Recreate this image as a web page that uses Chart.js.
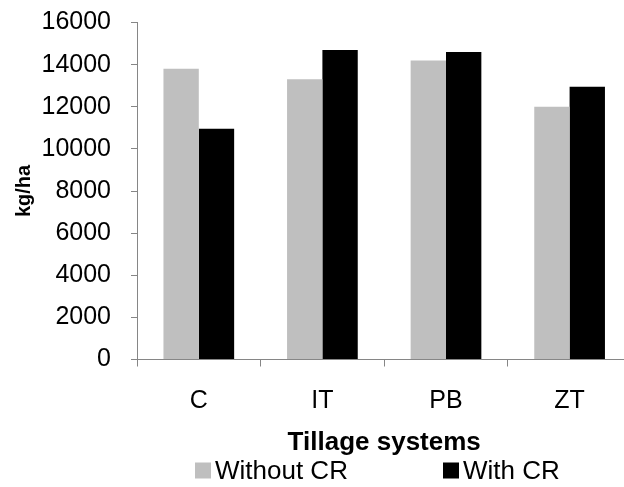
<!DOCTYPE html>
<html>
<head>
<meta charset="utf-8">
<script src="https://cdn.jsdelivr.net/npm/chart.js@4/dist/chart.umd.min.js"></script>
<style>
  html, body { margin: 0; padding: 0; overflow: hidden; background: #ffffff; }
  #wrap { width: 640px; height: 487px; }
</style>
</head>
<body>
<div id="wrap"><canvas id="chart" width="640" height="487"></canvas></div>
<script>
// Tillage systems and yield (kg/ha) with and without crop residue
const categories = ['C', 'IT', 'PB', 'ZT'];
const withoutCR = [13800, 13300, 14200, 12000];
const withCR = [10950, 14700, 14600, 12950];
const seriesNames = ['Without CR', 'With CR'];
const yTicks = [0, 2000, 4000, 6000, 8000, 10000, 12000, 14000, 16000];

const FONT = "'Liberation Sans', Arial, Helvetica, sans-serif";
const AXIS_GREY = '#868686';

// Legend drawn as square markers followed by series names
const squareLegend = {
  id: 'squareLegend',
  afterDraw(chart, args, opts) {
    const ctx = chart.ctx;
    ctx.save();
    ctx.font = opts.fontSize + 'px ' + FONT;
    ctx.textBaseline = 'middle';
    ctx.textAlign = 'left';
    chart.data.datasets.forEach((ds, i) => {
      const x = opts.itemX[i];
      const s = opts.boxSize;
      ctx.fillStyle = ds.backgroundColor;
      ctx.fillRect(x, opts.y - s / 2, s, s);
      ctx.fillStyle = '#000000';
      ctx.fillText(ds.label, x + s + opts.gap, opts.y + 1.5);
    });
    ctx.restore();
  }
};

new Chart(document.getElementById('chart'), {
  type: 'bar',
  data: {
    labels: categories,
    datasets: [
      { label: seriesNames[0], data: withoutCR, backgroundColor: '#BFBFBF' },
      { label: seriesNames[1], data: withCR, backgroundColor: '#000000' }
    ]
  },
  options: {
    responsive: false,
    animation: false,
    devicePixelRatio: 1,
    layout: { padding: { top: 22.5, right: 8.6, bottom: 0, left: 0 } },
    datasets: { bar: { categoryPercentage: 0.572, barPercentage: 1.0 } },
    plugins: {
      legend: { display: false },
      tooltip: { enabled: false },
      squareLegend: { y: 470.5, itemX: [195, 443], boxSize: 16, gap: 4, fontSize: 26 }
    },
    scales: {
      x: {
        offset: true,
        grid: { display: true, offset: true, drawOnChartArea: false, drawTicks: true, tickLength: 7, color: AXIS_GREY, lineWidth: 1 },
        border: { display: true, color: AXIS_GREY, width: 1 },
        ticks: { color: '#000000', font: { family: FONT, size: 25 }, padding: 20, maxRotation: 0 },
        title: { display: true, text: 'Tillage systems', color: '#000000', font: { family: FONT, size: 26, weight: 'bold' }, padding: { top: 0, bottom: 29 } },
        afterFit(scale) { scale.height = 127.5; scale.paddingLeft = 0; scale.paddingRight = 0; }
      },
      y: {
        min: 0,
        max: 16000,
        afterBuildTicks(scale) { scale.ticks = yTicks.map(v => ({ value: v })); },
        grid: { display: true, drawOnChartArea: false, drawTicks: true, tickLength: 6, color: AXIS_GREY, lineWidth: 1 },
        border: { display: true, color: AXIS_GREY, width: 1 },
        ticks: { color: '#000000', font: { family: FONT, size: 25 }, padding: 20, callback: v => String(v) },
        title: { display: true, text: 'kg/ha', color: '#000000', font: { family: FONT, size: 20, weight: 'bold' }, padding: { top: 12, bottom: 0 } },
        afterFit(scale) { scale.width = 137; scale.paddingTop = 0; scale.paddingBottom = 0; }
      }
    }
  },
  plugins: [squareLegend]
});
</script>
</body>
</html>
